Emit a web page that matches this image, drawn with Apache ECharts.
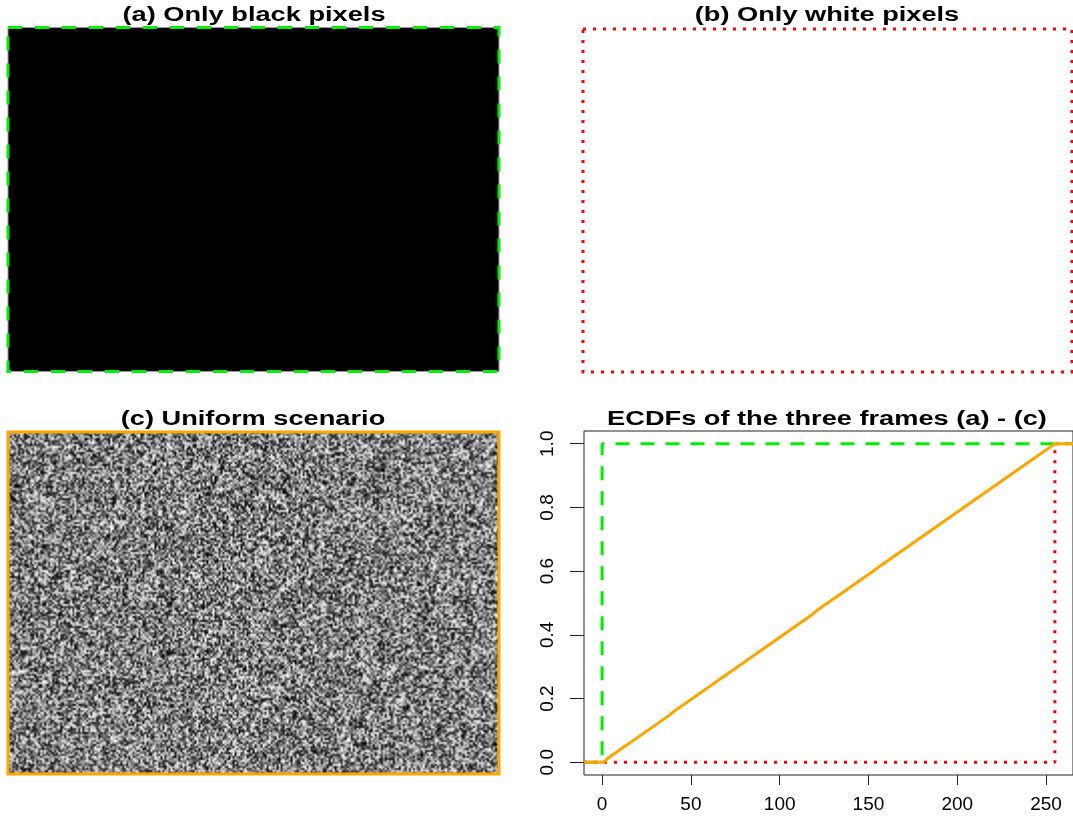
<!DOCTYPE html>
<html><head><meta charset="utf-8">
<script src="https://cdn.jsdelivr.net/npm/echarts@6/dist/echarts.min.js"></script>
<style>html,body{margin:0;padding:0;background:#fff}#c{width:1073px;height:816px}</style>
</head><body><div id="c"></div>
<script>
// ---- data ----
const panelTitles = ['(a) Only black pixels', '(b) Only white pixels', '(c) Uniform scenario', 'ECDFs of the three frames (a) - (c)'];
const xTicks = [0, 50, 100, 150, 200, 250];
const yTicks = [0, 0.2, 0.4, 0.6, 0.8, 1.0];
const xRange = [-10.2, 265.2];
const yRange = [-0.04, 1.04];
const ecdfBlack = [[-10.2, 0], [0, 0], [0, 1], [265.2, 1]];
const ecdfWhite = [[-10.2, 0], [255, 0], [255, 1], [265.2, 1]];
const ecdfUniform = [[-10.2, 0], [0, 0], [2, 0.004], [3, 0.012], [38, 0.148], [40, 0.158], [118, 0.462], [120, 0.472], [125, 0.493], [127, 0.5], [152, 0.597], [154, 0.606], [255, 1], [265.2, 1]];

// ---- decorative grey-noise texture for panel (c) (deterministic hash) ----
function noiseCanvas(w, h) {
  const cv = document.createElement('canvas');
  cv.width = w; cv.height = h;
  const ctx = cv.getContext('2d');
  const img = ctx.createImageData(w, h);
  for (let j = 0; j < h; j++) {
    for (let i = 0; i < w; i++) {
      let t = Math.imul(i + 1, 374761393) ^ Math.imul(j + 7, 668265263);
      t = Math.imul(t ^ (t >>> 13), 1274126177);
      t = (t ^ (t >>> 16)) >>> 0;
      const g = t & 255;
      const k = (j * w + i) * 4;
      img.data[k] = g; img.data[k + 1] = g; img.data[k + 2] = g; img.data[k + 3] = 255;
    }
  }
  ctx.putImageData(img, 0, 0);
  return cv;
}

const FONT = '"Liberation Sans", Arial, sans-serif';
const titleText = (txt, x, y) => ({
  type: 'text', x: x, y: y, z: 10, scaleX: 1.36,
  style: { text: txt, fill: '#000', font: 'bold 20px ' + FONT, align: 'center', verticalAlign: 'middle' }
});

const chart = echarts.init(document.getElementById('c'), null, { renderer: 'canvas' });
chart.setOption({
  backgroundColor: '#fff',
  animation: false,
  graphic: [
    titleText(panelTitles[0], 254, 15),
    titleText(panelTitles[1], 827, 15),
    titleText(panelTitles[2], 253, 419),
    titleText(panelTitles[3], 827, 419),
    { type: 'rect', shape: { x: 8, y: 27.5, width: 491, height: 344 }, style: { fill: '#000', stroke: '#999', lineWidth: 1 } },
    { type: 'rect', z: 2, shape: { x: 8, y: 27.5, width: 491, height: 344 }, style: { fill: null, stroke: '#00ee00', lineWidth: 3, lineDash: [14, 13] } },
    { type: 'rect', shape: { x: 583, y: 29, width: 489, height: 343 }, style: { fill: null, stroke: '#ff0000', lineWidth: 3, lineDash: [3, 7] } },
    { type: 'image', style: { image: noiseCanvas(245, 171), x: 8, y: 432, width: 491, height: 342 } },
    { type: 'rect', z: 2, shape: { x: 8, y: 432, width: 491, height: 342 }, style: { fill: null, stroke: '#ffa500', lineWidth: 3 } }
  ],
  grid: { left: 584, top: 431, width: 490, height: 344, show: true, borderColor: '#222', borderWidth: 1, backgroundColor: 'transparent' },
  xAxis: {
    type: 'value', min: xRange[0], max: xRange[1],
    axisLine: { show: false, onZero: false },
    splitLine: { show: false },
    axisTick: { show: true, inside: false, length: 10, lineStyle: { color: '#222', width: 1 }, customValues: xTicks },
    axisLabel: { show: true, margin: 20, color: '#000', fontSize: 19, fontFamily: FONT, customValues: xTicks, formatter: v => String(v) }
  },
  yAxis: {
    type: 'value', min: yRange[0], max: yRange[1],
    axisLine: { show: false, onZero: false },
    splitLine: { show: false },
    axisTick: { show: true, inside: false, length: 14, lineStyle: { color: '#222', width: 1 }, customValues: yTicks },
    axisLabel: { show: true, rotate: 90, margin: 27, color: '#000', fontSize: 19, fontFamily: FONT, customValues: yTicks, formatter: v => v.toFixed(1) }
  },
  series: [
    { type: 'line', data: ecdfBlack, symbol: 'none', lineStyle: { color: '#00ee00', width: 3, type: [14, 11] }, z: 3 },
    { type: 'line', data: ecdfWhite, symbol: 'none', lineStyle: { color: '#ff0000', width: 3, type: [3, 7] }, z: 4 },
    { type: 'line', data: ecdfUniform, symbol: 'none', lineStyle: { color: '#ffa500', width: 3 }, z: 5 }
  ]
});
</script>
</body></html>
